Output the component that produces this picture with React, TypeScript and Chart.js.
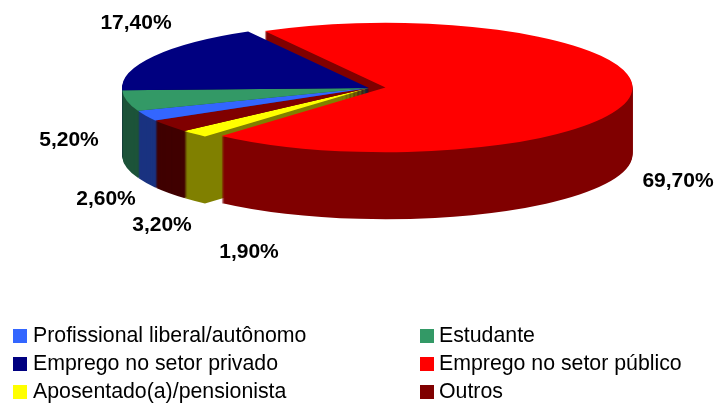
import React, { useEffect, useRef } from "react";
import { Chart, registerables } from "chart.js";

Chart.register(...registerables);

// Clockwise from the top of the pie, as drawn
const sliceLabels = [
  "Emprego no setor público",
  "Aposentado(a)/pensionista",
  "Outros",
  "Profissional liberal/autônomo",
  "Estudante",
  "Emprego no setor privado",
];
const sliceValues = [69.7, 1.9, 3.2, 2.6, 5.2, 17.4];
const faceColors = ["#FF0000", "#FFFF00", "#800000", "#3366FF", "#339966", "#000080"];
const wallColors = ["#800000", "#808000", "#400000", "#1A3380", "#1C5339", "#000040"];

// Legend reading order (indices into the slice arrays)
const legendOrder = [3, 4, 5, 0, 1, 2];

const FONT = '"Liberation Sans", Arial, sans-serif';
const SQUASH = 0.262;
const DEPTH = 67;
const RADIUS = 247;
const EXPLODED = 0;
const EXPLODE_DX = 16.5;
const EXPLODE_DY = -0.5;
const labelPos = [
  [678, 181],
  [249, 252],
  [162, 225],
  [106, 199],
  [69, 140],
  [136, 23],
];

const tilt = (ctx: CanvasRenderingContext2D, cx: number, cy: number, d: number) => {
  ctx.translate(cx, cy + d);
  ctx.scale(1, SQUASH);
  ctx.translate(-cx, -cy);
};

const pie3d = {
  id: "pie3d",
  afterDatasetsUpdate(chart: any) {
    const arc = chart.getDatasetMeta(0).data[EXPLODED];
    arc.x += EXPLODE_DX;
    arc.y += EXPLODE_DY / SQUASH;
  },
  beforeDatasetsDraw(chart: any) {
    const ctx = chart.ctx as CanvasRenderingContext2D;
    const arcs = chart.getDatasetMeta(0).data;
    const cx = arcs[1].x;
    const cy = arcs[1].y;
    for (let d = DEPTH; d >= 1; d--) {
      arcs.forEach((a: any, i: number) => {
        ctx.save();
        tilt(ctx, cx, cy, d);
        ctx.fillStyle = wallColors[i];
        ctx.beginPath();
        ctx.moveTo(a.x, a.y);
        ctx.arc(a.x, a.y, a.outerRadius, a.startAngle, a.endAngle);
        ctx.closePath();
        ctx.fill();
        ctx.restore();
      });
    }
  },
  beforeDatasetDraw(chart: any) {
    const ctx = chart.ctx as CanvasRenderingContext2D;
    const a = chart.getDatasetMeta(0).data[1];
    ctx.save();
    tilt(ctx, a.x, a.y, 0);
  },
  afterDatasetDraw(chart: any) {
    chart.ctx.restore();
  },
  afterDraw(chart: any) {
    const ctx = chart.ctx as CanvasRenderingContext2D;
    ctx.save();
    ctx.fillStyle = "#000000";
    ctx.textAlign = "center";
    ctx.textBaseline = "middle";
    ctx.font = `bold 21px ${FONT}`;
    sliceValues.forEach((v, i) => {
      ctx.fillText(`${v.toFixed(2).replace(".", ",")}%`, labelPos[i][0], labelPos[i][1]);
    });
    ctx.textAlign = "left";
    ctx.font = `21.3px ${FONT}`;
    legendOrder.forEach((idx, n) => {
      const col = n % 2;
      const row = Math.floor(n / 2);
      const boxX = col === 0 ? 13 : 420;
      const y = 336 + row * 28;
      ctx.fillStyle = faceColors[idx];
      ctx.fillRect(boxX, y - 7, 14, 14);
      ctx.fillStyle = "#000000";
      ctx.fillText(sliceLabels[idx], boxX + (col === 0 ? 20 : 19), y);
    });
    ctx.restore();
  },
};

export default function App() {
  const ref = useRef<HTMLCanvasElement>(null);
  useEffect(() => {
    document.body.style.margin = "0";
    const chart = new Chart(ref.current!, {
      type: "pie",
      data: {
        labels: sliceLabels,
        datasets: [
          {
            data: sliceValues,
            backgroundColor: faceColors,
            borderWidth: 0,
            radius: RADIUS,
            clip: false,
          } as any,
        ],
      },
      options: {
        responsive: false,
        animation: false,
        events: [],
        rotation: -29.3,
        layout: { padding: { left: 19, right: 0, top: 0, bottom: 229 } },
        plugins: { legend: { display: false }, tooltip: { enabled: false } },
      },
      plugins: [pie3d],
    });
    return () => chart.destroy();
  }, []);
  return <canvas ref={ref} width={719} height={405} style={{ display: "block" }} />;
}
